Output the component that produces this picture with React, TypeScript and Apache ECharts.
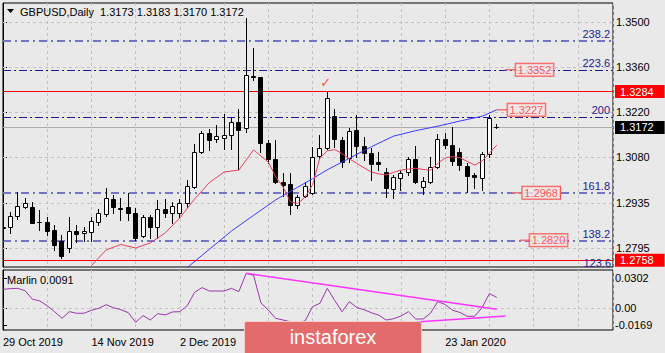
import React, { useEffect, useRef } from 'react';
import * as echarts from 'echarts';

const BG = '#e9e9e9';
const FONT = '"Liberation Sans", Arial, sans-serif';

const symbolTitle = 'GBPUSD,Daily';
const dateLabels = ['29 Oct 2019', '14 Nov 2019', '2 Dec 2019', '23 Jan 2020'];
const dateBars = [0, 12, 24, 60];

// OHLC per daily bar (bar 0 = 29 Oct 2019, bar 67 = 3 Feb 2020)
const opens = [1.2858, 1.2861, 1.2896, 1.2925, 1.2925, 1.2878, 1.2878, 1.2852, 1.2818, 1.2795,
  1.2850, 1.2842, 1.2847, 1.2876, 1.2902, 1.2948, 1.2920, 1.2923, 1.2906, 1.2834,
  1.2894, 1.2861, 1.2917, 1.2904, 1.2904, 1.2936, 1.2987, 1.3096, 1.3154, 1.3135,
  1.3138, 1.3149, 1.3190, 1.3169, 1.3333, 1.3329, 1.3125, 1.3073, 1.3003, 1.2996,
  1.2930, 1.2958, 1.2967, 1.3084, 1.3107, 1.3208, 1.3133, 1.3076, 1.3164, 1.3114,
  1.3091, 1.3065, 1.3034, 1.2980, 1.3013, 1.3034, 1.3073, 1.2987, 1.3003, 1.3048,
  1.3135, 1.3117, 1.3096, 1.3052, 1.3024, 1.3013, 1.3089, 1.3173];
const highs = [1.2889, 1.2909, 1.2972, 1.2951, 1.2939, 1.2915, 1.2894, 1.2868, 1.2837, 1.2894,
  1.2868, 1.2861, 1.2894, 1.2917, 1.2982, 1.2961, 1.2951, 1.2967, 1.2920, 1.2899,
  1.2899, 1.2946, 1.2948, 1.2941, 1.2948, 1.3008, 1.3120, 1.3161, 1.3166, 1.3180,
  1.3214, 1.3201, 1.3229, 1.3513, 1.3419, 1.3330, 1.3133, 1.3133, 1.3029, 1.3029,
  1.2961, 1.3003, 1.3112, 1.3149, 1.3284, 1.3230, 1.3143, 1.3169, 1.3211, 1.3143,
  1.3107, 1.3096, 1.3045, 1.3024, 1.3039, 1.3081, 1.3114, 1.3017, 1.3081, 1.3152,
  1.3154, 1.3174, 1.3107, 1.3060, 1.3029, 1.3096, 1.3211, 1.3183];
const lows = [1.2821, 1.2842, 1.2886, 1.2920, 1.2873, 1.2852, 1.2837, 1.2790, 1.2764, 1.2785,
  1.2816, 1.2819, 1.2819, 1.2868, 1.2896, 1.2904, 1.2883, 1.2883, 1.2821, 1.2829,
  1.2826, 1.2826, 1.2894, 1.2873, 1.2894, 1.2925, 1.2982, 1.3092, 1.3102, 1.3128,
  1.3104, 1.3104, 1.3042, 1.3159, 1.3320, 1.3096, 1.3060, 1.3000, 1.2958, 1.2902,
  1.2920, 1.2956, 1.2965, 1.3073, 1.3104, 1.3112, 1.3050, 1.3065, 1.3081, 1.3071,
  1.3008, 1.3039, 1.2954, 1.2951, 1.2977, 1.3024, 1.2998, 1.2965, 1.2998, 1.3045,
  1.3107, 1.3055, 1.3039, 1.2972, 1.2982, 1.2977, 1.3081, 1.3170];
const closes = [1.2860, 1.2896, 1.2927, 1.2936, 1.2875, 1.2876, 1.2850, 1.2805, 1.2772, 1.2850,
  1.2840, 1.2849, 1.2881, 1.2906, 1.2951, 1.2923, 1.2917, 1.2904, 1.2826, 1.2894,
  1.2861, 1.2917, 1.2904, 1.2927, 1.2937, 1.2988, 1.3096, 1.3154, 1.3132, 1.3144,
  1.3149, 1.3190, 1.3164, 1.3336, 1.3329, 1.3125, 1.3073, 1.3003, 1.2993, 1.2930,
  1.2956, 1.2989, 1.3079, 1.3107, 1.3263, 1.3135, 1.3065, 1.3162, 1.3114, 1.3091,
  1.3058, 1.3058, 1.2982, 1.3017, 1.3031, 1.3073, 1.3003, 1.3006, 1.3048, 1.3135,
  1.3117, 1.3068, 1.3055, 1.3021, 1.3017, 1.3089, 1.3201, 1.3172];

// moving averages: [bar, value]
const redMaBars = [12, 14, 16, 18, 20, 22, 24, 26, 28, 30, 32, 34, 35, 36, 37, 38, 39, 40, 41, 42,
  43, 44, 45, 46, 47, 48, 49, 50, 51, 52, 53, 54, 55, 56, 57, 58, 59, 60, 61, 62, 63, 64, 65, 66, 67];
const redMaValues = [1.2741, 1.2790, 1.2807, 1.2796, 1.2812, 1.2843, 1.2890, 1.2949, 1.3000, 1.3033,
  1.3039, 1.3102, 1.3083, 1.3064, 1.3018, 1.2986, 1.2940, 1.2935, 1.2955, 1.2993,
  1.3077, 1.3099, 1.3103, 1.3091, 1.3074, 1.3060, 1.3046, 1.3033, 1.3027, 1.3024,
  1.3032, 1.3039, 1.3042, 1.3045, 1.3041, 1.3039, 1.3060, 1.3077, 1.3081, 1.3078,
  1.3066, 1.3055, 1.3067, 1.3092, 1.3117];
const blueMaBars = [25, 28, 31, 34, 37, 40, 42, 44, 47, 50, 53, 56, 59, 62, 65, 67];
const blueMaValues = [1.2735, 1.2792, 1.2849, 1.2898, 1.2946, 1.2986, 1.3012, 1.3040, 1.3076, 1.3112,
  1.3145, 1.3162, 1.3176, 1.3192, 1.3207, 1.3227];

// Marlin oscillator per bar
const marlin = [0.0191, 0.0198, 0.0201, 0.0177, 0.0091, 0.0074, 0.0026, -0.0034, -0.0101, -0.0034,
  -0.0050, -0.0050, -0.0020, 0.0000, 0.0036, 0.0006, -0.0014, -0.0044, -0.0141, -0.0074,
  -0.0118, -0.0054, -0.0067, -0.0037, -0.0034, 0.0026, 0.0161, 0.0208, 0.0174, 0.0174,
  0.0174, 0.0201, 0.0168, 0.0352, 0.0332, 0.0054, -0.0018, -0.0101, -0.0118, -0.0135,
  -0.0150, -0.0125, 0.0016, 0.0050, 0.0201, 0.0080, -0.0034, 0.0067, 0.0008, -0.0015,
  -0.0045, -0.0070, -0.0118, -0.0105, -0.0078, -0.0034, -0.0108, -0.0108, -0.0050, 0.0067,
  0.0038, -0.0020, -0.0042, -0.0080, -0.0080, 0.0006, 0.0148, 0.0110];
const marlinUpperTrend = [[33, 0.0352], [67, -0.0010]];
const marlinLowerTrend = [[50, -0.0168], [68.2, -0.0078]];

const priceTicks = [1.35, 1.336, 1.322, 1.308, 1.2935, 1.2795];
const marlinTicks = [0.0302, 0, -0.0169];

const fibNames = ['238.2', '223.6', '200', '161.8', '138.2'];
const fibValues = [1.3444, 1.3352, 1.3205, 1.2968, 1.2820];
const fibHeavy = [true, false, false, true, true];

const redLevels = [1.3284, 1.2758];
const lastPrice = 1.3172;

const boxValues = [1.3352, 1.3227, 1.2968, 1.2820];
const boxBars = [69.5, 68.4, 70.4, 71.4];
const boxLineStart = [68.1, 67.0, 69.1, 70.1];

const checkBar = 43.8;
const checkPrice = 1.3311;

const X_MAX = 82.77;

function buildOption() {
  const candles = opens.map((o, i) => [i, o, closes[i], lows[i], highs[i]]);
  const last = opens.length - 1;
  const title = `${symbolTitle}  ${opens[last].toFixed(4)} ${highs[last].toFixed(4)} ${lows[last].toFixed(4)} ${closes[last].toFixed(4)}`;
  const gridLine = { color: '#c3c3c3', type: [3, 3] as any, width: 1 };

  const xBase = {
    type: 'value', min: 0, max: X_MAX, interval: 6,
    axisLine: { show: false }, axisTick: { show: false },
    splitLine: { show: true, lineStyle: gridLine },
  };

  const series: any[] = [
    {
      type: 'line', xAxisIndex: 0, yAxisIndex: 0, data: [], z: 1, silent: true,
      markLine: {
        silent: true, symbol: ['none', 'none'], animation: false, precision: 6,
        label: { show: false }, lineStyle: gridLine,
        data: priceTicks.map((v) => ({ yAxis: v })),
      },
    },
    {
      type: 'line', xAxisIndex: 0, yAxisIndex: 0, data: [], z: 2, silent: true,
      markLine: {
        silent: true, symbol: ['none', 'none'], animation: false, precision: 6,
        data: fibValues.map((v, i) => ({
          yAxis: v,
          lineStyle: fibHeavy[i]
            ? { color: '#7474c6', width: 2, type: [8, 4, 2, 4] }
            : { color: '#1a1a9a', width: 1, type: [8, 3, 2, 3] },
          label: {
            show: true, position: 'insideEndTop', formatter: fibNames[i], distance: [3, 1],
            color: '#23238c', fontSize: 11, fontFamily: FONT,
          },
        })),
      },
    },
    {
      type: 'line', xAxisIndex: 0, yAxisIndex: 0, data: [], z: 3, silent: true,
      markLine: {
        silent: true, symbol: ['none', 'none'], animation: false, precision: 6,
        data: [
          ...redLevels.map((v) => ({
            yAxis: v,
            lineStyle: { color: '#ff0000', width: 1, type: 'solid' },
            label: {
              show: true, position: 'end', formatter: v.toFixed(4), distance: 2,
              color: '#ffffff', backgroundColor: '#ff0000', padding: [1, 11, 1, 5],
              fontSize: 11, fontFamily: FONT,
            },
          })),
          {
            yAxis: lastPrice,
            lineStyle: { color: '#acacac', width: 1, type: 'solid' },
            label: {
              show: true, position: 'end', formatter: lastPrice.toFixed(4), distance: 2,
              color: '#ffffff', backgroundColor: '#000000', padding: [1, 11, 1, 5],
              fontSize: 11, fontFamily: FONT,
            },
          },
        ],
      },
    },
    {
      type: 'custom', xAxisIndex: 0, yAxisIndex: 0, z: 5, clip: true, silent: true,
      data: candles,
      renderItem: (params: any, api: any) => {
        const x = api.value(0);
        const o = api.value(1), c = api.value(2), l = api.value(3), h = api.value(4);
        const pO = api.coord([x, o]);
        const pC = api.coord([x, c]);
        const pL = api.coord([x, l]);
        const pH = api.coord([x, h]);
        const cx = Math.round(pO[0] - 0.5) + 0.5;
        const top = Math.round(Math.min(pO[1], pC[1])) + 0.5;
        const bot = Math.round(Math.max(pO[1], pC[1])) + 0.5;
        const bull = c > o;
        return {
          type: 'group',
          children: [
            { type: 'line', shape: { x1: cx, y1: Math.round(pH[1]), x2: cx, y2: Math.round(pL[1]) + 1 }, style: { stroke: '#000', lineWidth: 1 } },
            { type: 'rect', shape: { x: cx - 2, y: top, width: 4, height: Math.max(0, bot - top) }, style: { fill: bull ? '#ffffff' : '#000000', stroke: '#000', lineWidth: 1 } },
          ],
        };
      },
    },
    {
      type: 'line', xAxisIndex: 0, yAxisIndex: 0, z: 6, silent: true, showSymbol: false,
      data: blueMaBars.map((b, i) => [b, blueMaValues[i]]),
      lineStyle: { color: '#3b3bff', width: 1 },
    },
    {
      type: 'line', xAxisIndex: 0, yAxisIndex: 0, z: 6, silent: true, showSymbol: false,
      data: redMaBars.map((b, i) => [b, redMaValues[i]]),
      lineStyle: { color: '#e8405c', width: 1 },
    },
    ...boxValues.map((v, i) => ({
      type: 'line', xAxisIndex: 0, yAxisIndex: 0, z: 7, silent: true, showSymbol: false,
      data: [[boxLineStart[i], v], [boxBars[i], v]],
      lineStyle: { color: '#f07070', width: 1.5 },
    })),
    {
      type: 'scatter', xAxisIndex: 0, yAxisIndex: 0, z: 8, silent: true, symbolSize: 1,
      itemStyle: { color: 'rgba(0,0,0,0)' },
      data: boxValues.map((v, i) => [boxBars[i], v]),
      label: {
        show: true, position: 'right', distance: 0,
        formatter: (p: any) => p.value[1].toFixed(4),
        color: '#ff3030', backgroundColor: '#f3e6e6', borderColor: '#ff2a2a', borderWidth: 1,
        padding: [1, 2, 0, 2], fontSize: 11, fontFamily: FONT,
      },
    },
    {
      type: 'scatter', xAxisIndex: 0, yAxisIndex: 0, z: 8, silent: true, symbolSize: 1,
      itemStyle: { color: 'rgba(0,0,0,0)' },
      data: [[checkBar, checkPrice]],
      label: {
        show: true, position: 'inside', formatter: '✓', color: '#ff1a1a',
        fontSize: 13, fontWeight: 'bold', fontFamily: '"DejaVu Sans", sans-serif',
      },
    },
    // sub panel
    {
      type: 'line', xAxisIndex: 1, yAxisIndex: 1, data: [], z: 1, silent: true,
      markLine: {
        silent: true, symbol: ['none', 'none'], animation: false, precision: 6,
        label: { show: false }, lineStyle: gridLine,
        data: [{ yAxis: 0 }],
      },
    },
    {
      type: 'line', xAxisIndex: 1, yAxisIndex: 1, z: 5, silent: true, showSymbol: false,
      data: marlin.map((v, i) => [i, v]),
      lineStyle: { color: '#9a35aa', width: 1 },
    },
    {
      type: 'line', xAxisIndex: 1, yAxisIndex: 1, z: 6, silent: true, showSymbol: false,
      data: marlinUpperTrend, lineStyle: { color: '#ff33ff', width: 1.5 },
    },
    {
      type: 'line', xAxisIndex: 1, yAxisIndex: 1, z: 6, silent: true, showSymbol: false,
      data: marlinLowerTrend, lineStyle: { color: '#ff33ff', width: 1.5 },
    },
  ];

  return {
    animation: false,
    backgroundColor: BG,
    textStyle: { fontFamily: FONT },
    grid: [
      { left: 3, right: 52, top: 3, height: 264, show: true, borderColor: '#000', borderWidth: 1, backgroundColor: 'transparent' },
      { left: 3, right: 52, top: 270, height: 60, show: true, borderColor: '#000', borderWidth: 1, backgroundColor: 'transparent' },
    ],
    xAxis: [
      { ...xBase, gridIndex: 0, axisLabel: { show: false } },
      {
        ...xBase, gridIndex: 1,
        axisLabel: {
          show: true, showMinLabel: true, showMaxLabel: false, align: 'left', margin: 6,
          color: '#000', fontSize: 11, fontFamily: FONT,
          formatter: (v: number) => {
            const k = dateBars.indexOf(Math.round(v * 1000) / 1000);
            return k >= 0 ? dateLabels[k] : '';
          },
        },
      },
    ],
    yAxis: [
      {
        type: 'value', gridIndex: 0, position: 'right', min: 1.27368, max: 1.35602,
        axisLine: { show: true, lineStyle: { color: '#000' } },
        axisTick: { show: true, length: 4, customValues: priceTicks, lineStyle: { color: '#000' } },
        axisLabel: { show: true, customValues: priceTicks, margin: 3, color: '#000', fontSize: 11, fontFamily: FONT, formatter: (v: number) => v.toFixed(4) },
        splitLine: { show: false },
      },
      {
        type: 'value', gridIndex: 1, position: 'right', min: -0.02186, max: 0.03856,
        axisLine: { show: true, lineStyle: { color: '#000' } },
        axisTick: { show: true, length: 4, customValues: marlinTicks, lineStyle: { color: '#000' } },
        axisLabel: { show: true, customValues: marlinTicks, margin: 2, color: '#000', fontSize: 11, fontFamily: FONT, formatter: (v: number) => (v === 0 ? '0.00' : v.toFixed(4)) },
        splitLine: { show: false },
      },
    ],
    series,
    graphic: [
      { type: 'polygon', shape: { points: [[7, 9], [14, 9], [10.5, 13]] }, style: { fill: '#000' }, z: 50 },
      { type: 'text', x: 20, y: 12, z: 50, style: { text: title, fill: '#000', font: `11px ${FONT}`, textVerticalAlign: 'middle', verticalAlign: 'middle' } },
      { type: 'text', x: 7, y: 280, z: 50, style: { text: 'Marlin 0.0091', fill: '#000', font: `11px ${FONT}`, textVerticalAlign: 'middle', verticalAlign: 'middle' } },
      { type: 'text', x: 611, y: 263, z: 50, style: { text: '123.6', fill: '#23238c', font: `11px ${FONT}`, textAlign: 'right', align: 'right', textVerticalAlign: 'middle', verticalAlign: 'middle' } },
      { type: 'rect', z: 100, shape: { x: 244.5, y: 321.5, width: 177, height: 34, r: 2 }, style: { fill: '#e46b6b', stroke: '#f6cccc', lineWidth: 1 } },
      { type: 'text', z: 101, x: 333, y: 337, style: { text: 'instaforex', fill: '#ffffff', font: `20px ${FONT}`, textAlign: 'center', align: 'center', textVerticalAlign: 'middle', verticalAlign: 'middle' } },
    ],
  };
}

export default function App() {
  const ref = useRef<HTMLDivElement>(null);
  useEffect(() => {
    document.body.style.margin = '0';
    const chart = echarts.init(ref.current!, undefined, { renderer: 'svg', width: 665, height: 353 });
    chart.setOption(buildOption() as any);
    return () => chart.dispose();
  }, []);
  return <div ref={ref} style={{ width: 665, height: 353, background: BG }} />;
}
